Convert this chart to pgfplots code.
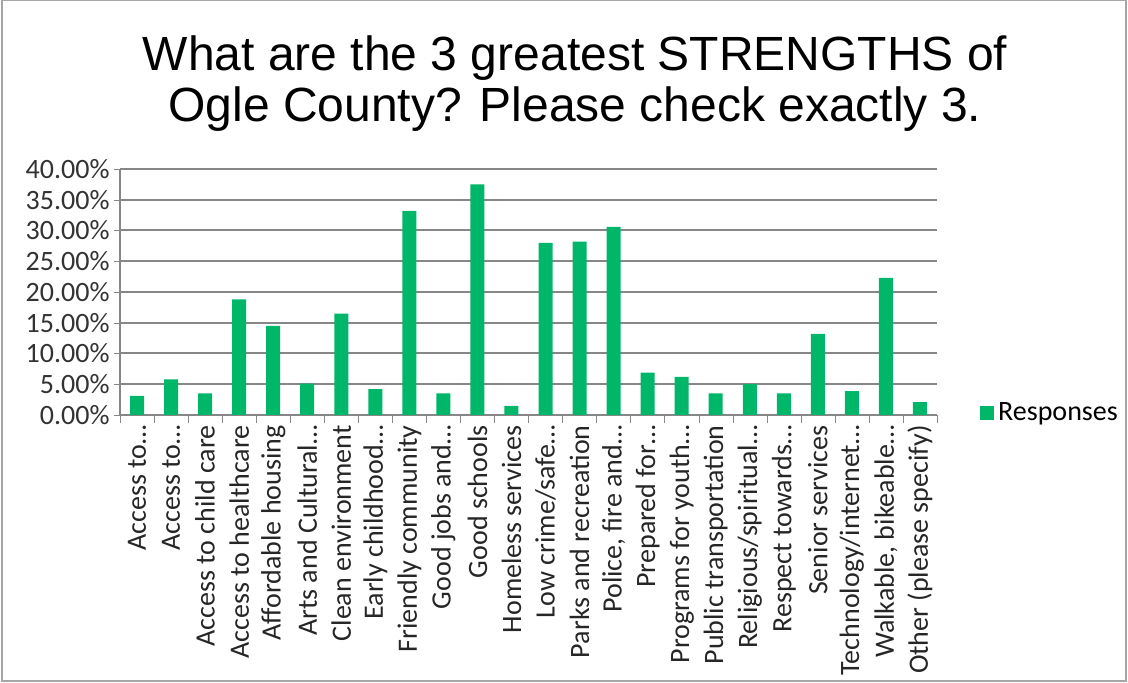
\documentclass[border=0pt]{standalone}
\usepackage{pgfplots}
\pgfplotsset{compat=1.18}
\usepackage{fontspec}
\setmainfont{Carlito}
\newfontfamily\titlefont{Liberation Sans}
\definecolor{bargreen}{RGB}{0,182,104}
\definecolor{gridgray}{RGB}{135,135,135}
\begin{document}
\begin{tikzpicture}
\useasboundingbox (-60pt,-134pt) rectangle (504pt,207.5pt);
\draw[gray!70, line width=1pt] (-59pt,-133pt) rectangle (503pt,207.5pt);
\node[align=center, font=\titlefont\fontsize{24}{25.5}\selectfont] at (227.5pt,165.5pt)
  {What are the 3 greatest STRENGTHS of\\Ogle County? Please check exactly 3.};
\begin{axis}[
  at={(0,0)}, anchor=south west,
  scale only axis, width=408.5pt, height=123pt,
  xmin=-0.5, xmax=23.5, ymin=0, ymax=40,
  axis x line*=bottom, axis y line*=left,
  axis line style={gridgray, line width=0.8pt},
  ytick={0,5,...,40},
  yticklabels={0.00\%,5.00\%,10.00\%,15.00\%,20.00\%,25.00\%,30.00\%,35.00\%,40.00\%},
  ymajorgrids, grid style={gridgray, line width=1pt},
  y tick label style={font=\fontsize{14}{15}\selectfont, color=black!80, inner sep=2pt},
  ytick style={gridgray}, major tick length=3pt, tick align=outside,
  xtick={0,...,23},
  x tick style={draw=none},
  xticklabels={Access to\ldots,Access to\ldots,Access to child care,Access to healthcare,Affordable housing,Arts and Cultural\ldots,Clean environment,Early childhood\ldots,Friendly community,Good jobs and\ldots,Good schools,Homeless services,Low crime/safe\ldots,Parks and recreation,{Police, fire and\ldots},Prepared for\ldots,Programs for youth\ldots,Public transportation,Religious/spiritual\ldots,Respect towards\ldots,Senior services,Technology/internet\ldots,{Walkable, bikeable\ldots},Other (please specify)},
  x tick label style={rotate=90, anchor=east, font=\fontsize{14}{15}\selectfont, color=black!85, inner sep=2pt},
  extra x ticks={-0.5,0.5,...,23.5},
  extra x tick labels={},
  extra x tick style={grid=none, x tick style={draw=gridgray}, major tick length=4pt, xticklabels={}},
  legend style={at={(1.045,0.01)}, anchor=west, draw=none, font=\fontsize{14}{15}\selectfont, fill=none},
  legend image code/.code={\fill[bargreen] (0pt,-3.5pt) rectangle (7pt,3.5pt);},
  clip=false,
]
\addplot[ybar, bar width=7pt, fill=bargreen, draw=none] coordinates {
(0,3.1) (1,5.8) (2,3.5) (3,18.8) (4,14.5) (5,5.1) (6,16.5) (7,4.2) (8,33.2) (9,3.5) (10,37.5) (11,1.5)
(12,28.0) (13,28.2) (14,30.6) (15,6.9) (16,6.2) (17,3.5) (18,5.0) (19,3.5) (20,13.2) (21,3.9) (22,22.3) (23,2.1)};
\addlegendentry{Responses}
\end{axis}
\end{tikzpicture}
\end{document}
